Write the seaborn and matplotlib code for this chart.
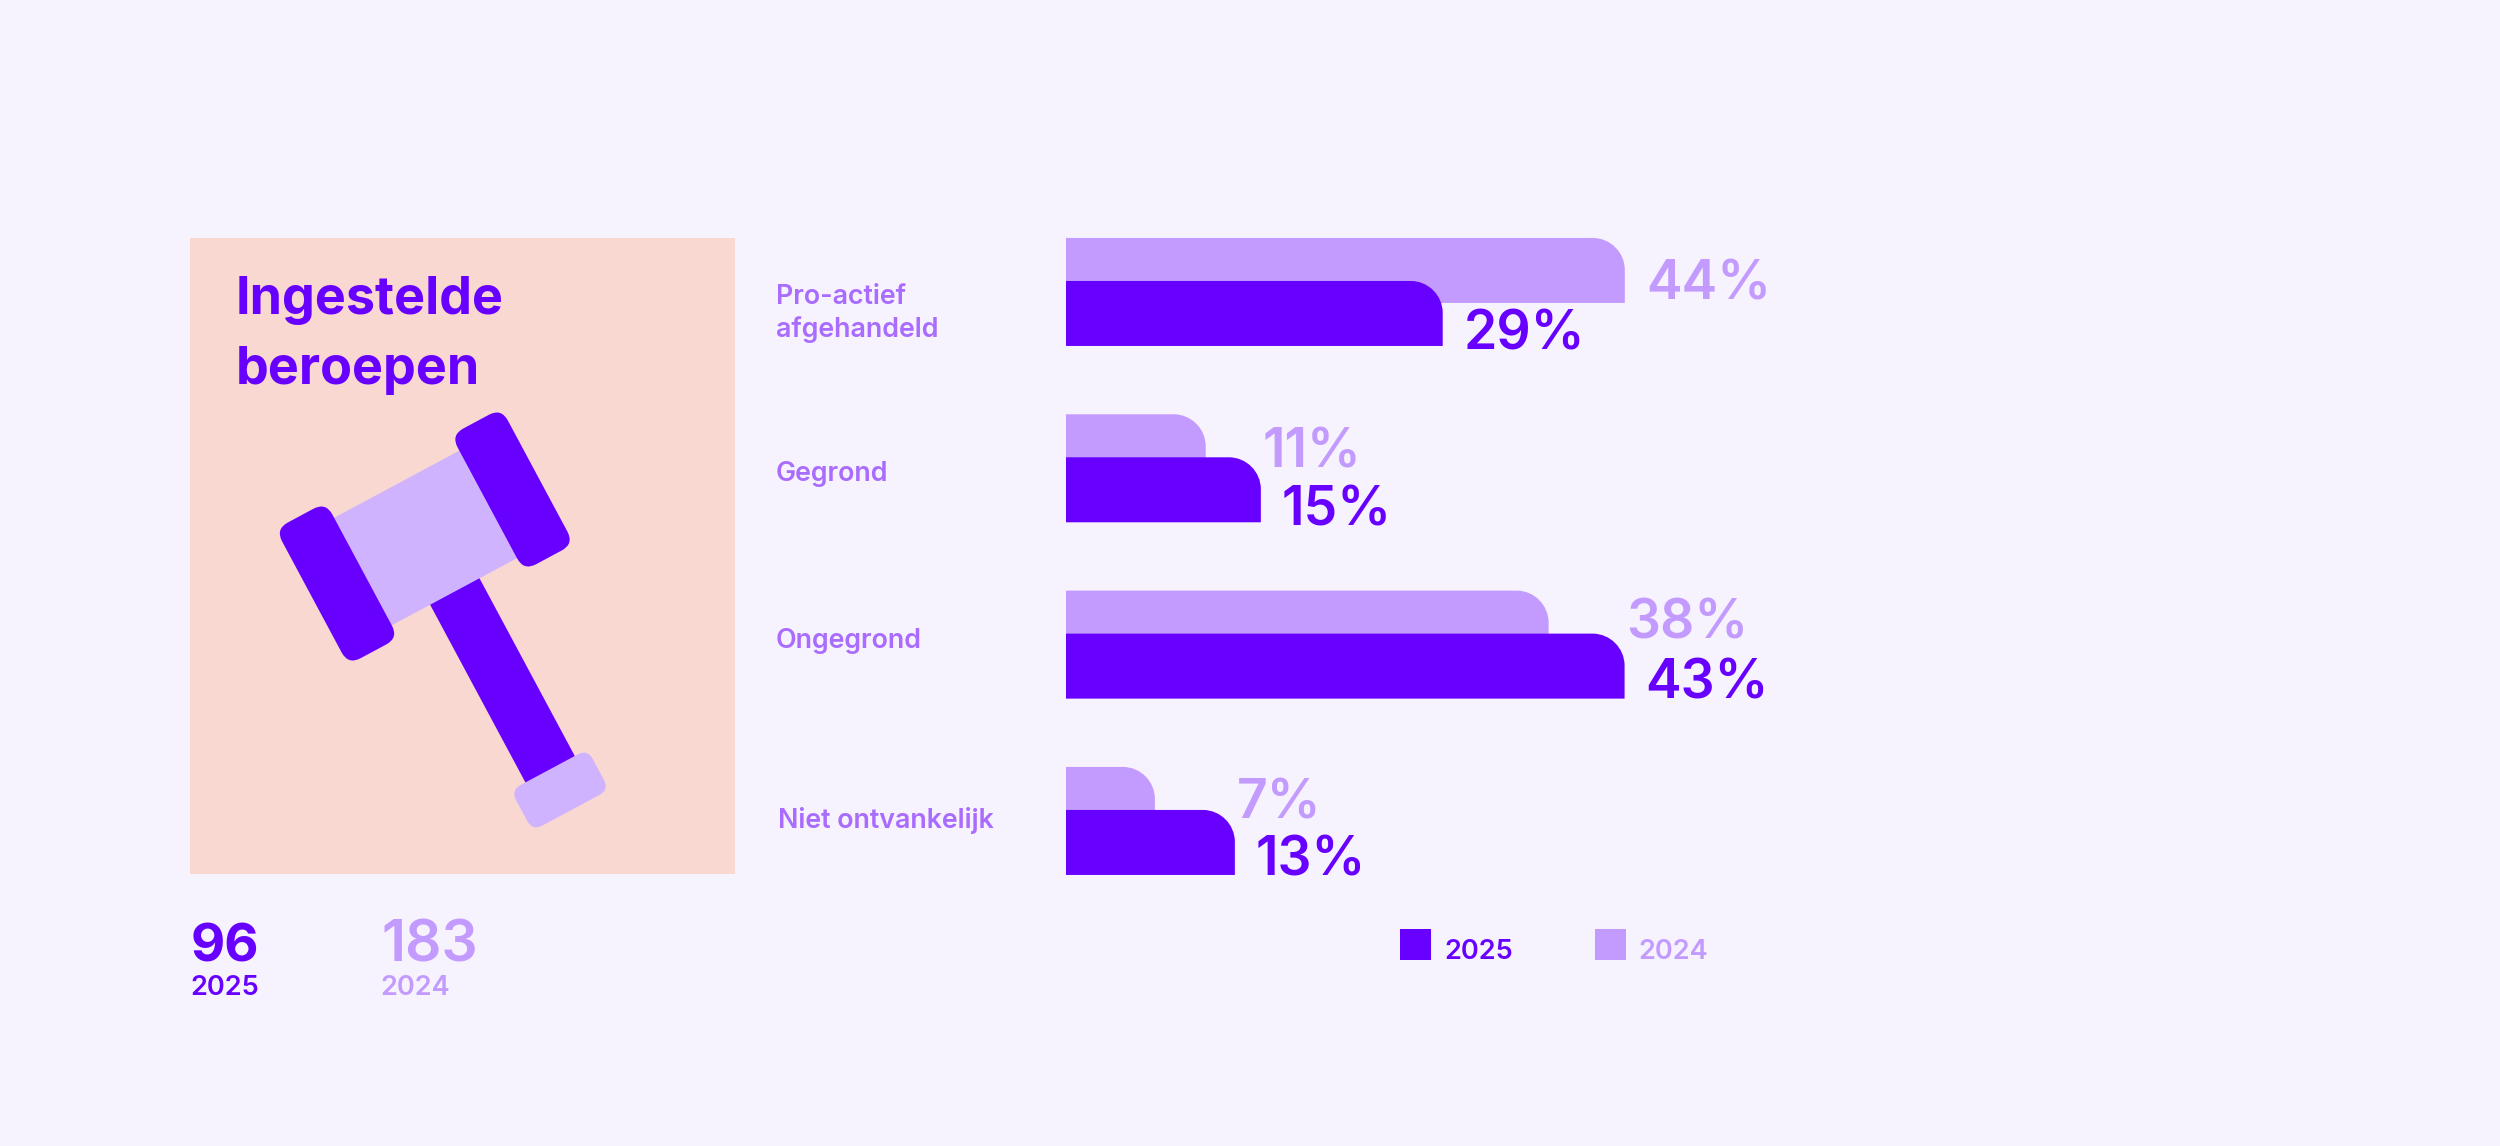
import pandas as pd
import matplotlib
matplotlib.use('Agg')
import matplotlib.pyplot as plt
import seaborn as sns
from matplotlib.patches import FancyBboxPatch, PathPatch, Rectangle
from matplotlib.path import Path
from matplotlib.transforms import Affine2D

categories = ['Pro-actief\nafgehandeld', 'Gegrond', 'Ongegrond', 'Niet ontvankelijk']
values_2025 = [29, 15, 43, 13]
values_2024 = [44, 11, 38, 7]
total_2025 = 96
total_2024 = 183
title_lines = ['Ingestelde', 'beroepen']

BG = '#F6F2FE'
PANEL = '#F9D8D2'
DARK = '#6700FF'
LIGHT = '#C39BFF'
GAVEL_LIGHT = '#D0B3FF'
LABEL = '#A96CFF'
W, H = 2500, 1146

sns.set_theme(style='white')
plt.rcParams['font.family'] = ['Inter', 'DejaVu Sans']
plt.rcParams['font.weight'] = 'semibold'

fig = plt.figure(figsize=(W / 100, H / 100), dpi=100, facecolor=BG)

# overlay in pixel coordinates for the panel, gavel and loose text
ov = fig.add_axes([0, 0, 1, 1], zorder=0)
ov.set_xlim(0, W)
ov.set_ylim(H, 0)
ov.axis('off')

ov.add_patch(Rectangle((190, 238), 545, 636, color=PANEL, lw=0))


def rrect(cx, cy, w, h, r, color):
    box = FancyBboxPatch((cx - w / 2 + r, cy - h / 2 + r), w - 2 * r, h - 2 * r,
                         boxstyle=f'round,pad={r},rounding_size={r}', color=color, lw=0)
    box.set_transform(Affine2D().rotate_deg_around(cx, cy, -28.2) + ov.transData)
    ov.add_patch(box)


# gavel
rrect(502, 679.5, 56, 215, 0, DARK)
rrect(560, 790, 87, 46, 11, GAVEL_LIGHT)
rrect(425.5, 538, 170, 122, 0, GAVEL_LIGHT)
rrect(337, 583.5, 57, 154, 14, DARK)
rrect(512.5, 489.5, 57, 154, 14, DARK)

# title and totals
for line, base in zip(title_lines, [314, 384]):
    ov.text(236, base, line, color=DARK, fontsize=37.5, fontweight='bold', va='baseline')
ov.text(191, 961, str(total_2025), color=DARK, fontsize=38, fontweight='bold', va='baseline')
ov.text(190, 995, '2025', color=DARK, fontsize=19.6, va='baseline')
ov.text(381, 961, str(total_2024), color=LIGHT, fontsize=41, va='baseline')
ov.text(380, 995, '2024', color=LIGHT, fontsize=19.6, va='baseline')

# category labels
label_x = [776, 776, 776, 778]
label_base = [337, 481, 648, 828]
for cat, x, base in zip(categories, label_x, label_base):
    ov.text(x, base, cat, color=LABEL, fontsize=19.3, va='baseline', linespacing=1.28)

# legend
ov.add_patch(Rectangle((1400, 929), 31, 31, color=DARK, lw=0))
ov.text(1444, 959, '2025', color=DARK, fontsize=19.6, va='baseline')
ov.add_patch(Rectangle((1595, 929), 31, 31, color=LIGHT, lw=0))
ov.text(1638, 959, '2024', color=LIGHT, fontsize=19.6, va='baseline')

# bar axes share one rectangle; the 2024 one is shifted up and has its own scale
left, right = 1066, 1766
top, step = 225.3, 176.33
rect = [left / W, 1 - (top + 4 * step) / H, (right - left) / W, 4 * step / H]
scale_2025, scale_2024 = 12.99, 12.7
shift = 43 / step
bar_h = 65 / step

df = pd.DataFrame({'cat': categories, '2025': values_2025, '2024': values_2024})


def draw_bars(col, color, scale, off, z):
    ax = fig.add_axes(rect, zorder=z)
    ax.patch.set_alpha(0)
    sns.barplot(data=df, x=col, y='cat', orient='h', color=color, saturation=1, width=bar_h, ax=ax)
    ax.set_xlim(0, (right - left) / scale)
    ax.set_ylim(3.5 + off, -0.5 + off)
    ax.axis('off')
    rx, ry = 32 / scale, 32 / step
    k = 0.45
    for bar in list(ax.patches):
        x0, y0 = bar.get_x(), bar.get_y()
        x1, y1 = x0 + bar.get_width(), y0 + bar.get_height()
        # y axis runs downward, so y0 is the top edge
        verts = [(x0, y0), (x1 - rx, y0), (x1 - rx * k, y0), (x1, y0 + ry * k), (x1, y0 + ry),
                 (x1, y1), (x0, y1), (x0, y0)]
        codes = [Path.MOVETO, Path.LINETO, Path.CURVE4, Path.CURVE4, Path.CURVE4,
                 Path.LINETO, Path.LINETO, Path.CLOSEPOLY]
        bar.remove()
        ax.add_patch(PathPatch(Path(verts, codes), facecolor=color, lw=0))
    return ax


ax24 = draw_bars('2024', LIGHT, scale_2024, shift, 1)
ax25 = draw_bars('2025', DARK, scale_2025, 0, 2)

nudge_2025 = [-36, -36, -32, -33]
nudge_2024 = [-29, -21, -15, -19]
for i, (v25, v24) in enumerate(zip(values_2025, values_2024)):
    ax25.annotate(f'{v25}%', xy=(v25, i), xytext=(21, nudge_2025[i]), textcoords='offset pixels',
                  color=DARK, fontsize=38.5, va='baseline', annotation_clip=False)
    # the light label clears whichever bar reaches further
    if v24 * scale_2024 > v25 * scale_2025:
        ax24.annotate(f'{v24}%', xy=(v24, i), xytext=(21, nudge_2024[i]), textcoords='offset pixels',
                      color=LIGHT, fontsize=38.5, va='baseline', annotation_clip=False)
    else:
        ax25.annotate(f'{v24}%', xy=(v25, i - shift), xytext=(2, nudge_2024[i]), textcoords='offset pixels',
                      color=LIGHT, fontsize=38.5, va='baseline', annotation_clip=False)

fig.savefig('out.png', dpi=100, facecolor=BG)
